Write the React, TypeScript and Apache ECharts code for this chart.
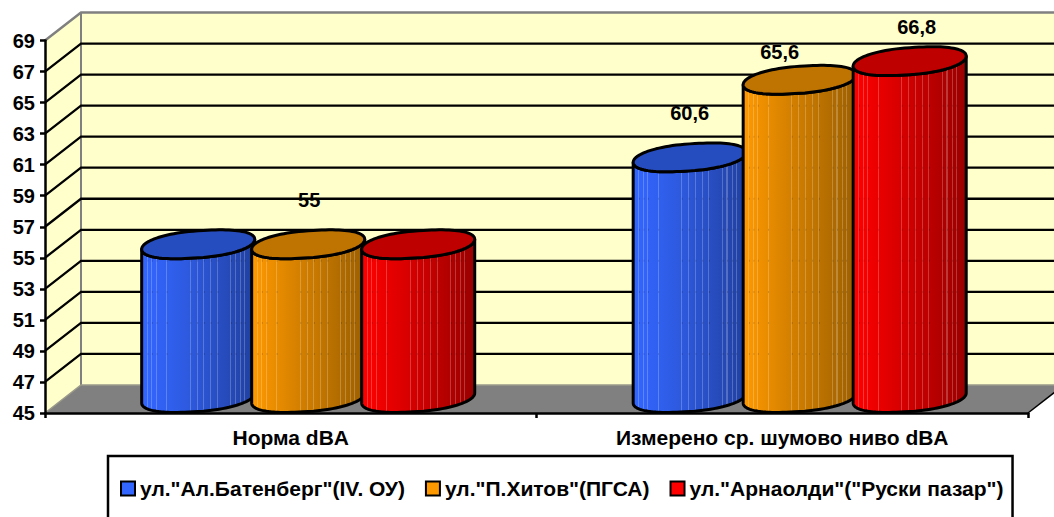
import React, { useEffect, useRef } from "react";
import * as echarts from "echarts";

const categories = ["Норма dBA", "Измерено ср. шумово ниво dBA"];
const seriesNames = ['ул."Ал.Батенберг"(IV. ОУ)', 'ул."П.Хитов"(ПГСА)', 'ул."Арнаолди"("Руски пазар")'];
const batenberg = [55, 60.6];
const hitov = [55, 65.6];
const arnaoldi = [55, 66.8];
const yTicks = [45, 47, 49, 51, 53, 55, 57, 59, 61, 63, 65, 67, 69];

const seriesValues = [batenberg, hitov, arnaoldi];
// which bars carry a label, and how far each was dragged from its default place [dx, dy]
const labelShown = [[false, true], [true, true], [false, true]];
const labelNudge = [[[0, 0], [0, -58]], [[1, -58], [-20, -41]], [[0, 0], [7, -48]]];
const palettes = [
  { base: "#3366FF", mid: "#2F5CE6", dark: "#20409F", top: "#264DBF" },
  { base: "#FF9900", mid: "#DB8400", dark: "#9C5F00", top: "#BF7300" },
  { base: "#FF0000", mid: "#DE0000", dark: "#990000", top: "#BF0000" },
];
const stripes = [0.05, 0.09, 0.13, 0.22, 0.43, 0.49, 0.55, 0.61, 0.67, 0.79, 0.83, 0.875, 0.91];

const FONT = '"Liberation Sans", Arial, sans-serif';
const DEPTH_X = 36;
const DEPTH_Y = 28;
const WALL = "#FFFFCC";
const GREY = "#808080";

function hex(c: string) {
  return [1, 3, 5].map((i) => parseInt(c.slice(i, i + 2), 16));
}
function mixRgb(A: number[], B: number[], t: number) {
  return A.map((v, i) => Math.round(v + (B[i] - v) * t));
}
function css(c: number[]) {
  return `rgb(${c.join(",")})`;
}
function bodyShade(p: any, t: number) {
  return t < 0.35
    ? mixRgb(hex(p.base), hex(p.mid), t / 0.35)
    : mixRgb(hex(p.mid), hex(p.dark), (t - 0.35) / 0.65);
}
function bodyGradient(p: any) {
  const stops: any[] = [{ offset: 0, color: p.base }];
  const w = 0.0045;
  stripes.forEach((s) => {
    const rgb = bodyShade(p, s);
    const c = css(rgb);
    const light = css(mixRgb(rgb, [255, 255, 255], 0.22));
    stops.push(
      { offset: s - w, color: c },
      { offset: s - w, color: light },
      { offset: s + w, color: light },
      { offset: s + w, color: c },
    );
  });
  stops.push({ offset: 1, color: p.dark });
  return new echarts.graphic.LinearGradient(0, 0, 1, 0, stops);
}

function signedPow(v: number, e: number) {
  return Math.sign(v) * Math.pow(Math.abs(v), e);
}
// a slightly squared, tilted ellipse: the blunt ends of the reference's cylinder caps
function ellipsePoint(cx: number, cy: number, a: number, t: number) {
  const B = 13.5, K = 5;
  const c = Math.cos(t), s = Math.sin(t);
  return [cx + a * signedPow(c, 0.88), cy - K * c + B * signedPow(s, 0.95)];
}

function showThroughDash(width: number) {
  const dash: number[] = [0, stripes[0] * width];
  stripes.forEach((s, i) => {
    const next = i + 1 < stripes.length ? stripes[i + 1] : 2;
    dash.push(1, (next - s) * width - 1);
  });
  return dash;
}

function cylinderSeries(idx: number) {
  const p = palettes[idx];
  return {
    type: "custom",
    name: seriesNames[idx],
    coordinateSystem: "cartesian2d",
    clip: false,
    z: 3 + idx,
    itemStyle: { color: p.base },
    encode: { x: 0, y: 1 },
    data: seriesValues[idx].map((v, i) => [i, v]),
    renderItem: (_params: any, api: any) => {
      const cat = api.value(0);
      const val = api.value(1);
      const band = api.size([1, 0])[0];
      const step = band * 0.2238;
      const a = band * 0.115;
      const shift = band * 0.0355;
      const c = api.coord([cat, val]);
      const b = api.coord([cat, 45]);
      const cx = c[0] + shift + (idx - 1) * step;
      const topY = c[1] - 13.5;
      const botY = b[1] - 15;
      const N = 48;
      const body: number[][] = [];
      for (let k = 0; k <= N; k++) body.push(ellipsePoint(cx, botY, a, Math.PI - (Math.PI * k) / N));
      for (let k = 0; k <= N; k++) body.push(ellipsePoint(cx, topY, a, (Math.PI * k) / N));
      const top: number[][] = [];
      for (let k = 0; k < N * 2; k++) top.push(ellipsePoint(cx, topY, a, (Math.PI * k) / N));
      const children: any[] = [
        { type: "polygon", shape: { points: body }, style: { fill: bodyGradient(p), stroke: "#000", lineWidth: 3, lineJoin: "round" } },
      ];
      // faint wall gridlines that show through along the stripes
      yTicks.slice(1, -1).forEach((t) => {
        const y = api.coord([cat, t])[1] - DEPTH_Y;
        if (y > topY + 16 && y < botY) {
          children.push({
            type: "line",
            shape: { x1: cx - a, y1: y, x2: cx + a, y2: y },
            style: { stroke: "#000", opacity: 0.16, lineWidth: 2, lineDash: showThroughDash(2 * a) },
          });
        }
      });
      children.push({ type: "polygon", shape: { points: top }, style: { fill: p.top, stroke: "#000", lineWidth: 3, lineJoin: "round" } });
      if (labelShown[idx][cat]) {
        const n = labelNudge[idx][cat];
        children.push({
          type: "text",
          x: cx + n[0],
          y: c[1] + n[1],
          style: {
            text: String(val).replace(".", ","),
            font: `bold 20px ${FONT}`,
            fill: "#000",
            align: "center",
            verticalAlign: "middle",
          },
        });
      }
      return { type: "group", children };
    },
  };
}

const wallSeries = {
  type: "custom",
  name: "walls",
  coordinateSystem: "cartesian2d",
  clip: false,
  silent: true,
  z: 1,
  encode: { y: 1 },
  data: [[0, 45]],
  renderItem: (params: any) => {
    const g = params.coordSys;
    const L = g.x, R = g.x + g.width, T = g.y, B = g.y + g.height;
    const dx = DEPTH_X, dy = DEPTH_Y;
    return {
      type: "group",
      children: [
        { type: "polygon", shape: { points: [[L + dx, T - dy], [R + dx, T - dy], [R + dx, B - dy], [L + dx, B - dy]] }, style: { fill: WALL } },
        { type: "polygon", shape: { points: [[L, T], [L + dx, T - dy], [L + dx, B - dy], [L, B]] }, style: { fill: WALL } },
        { type: "polygon", shape: { points: [[L, B], [L + dx, B - dy], [R + dx, B - dy], [R, B]] }, style: { fill: GREY } },
        { type: "polyline", shape: { points: [[L, T], [L + dx, T - dy], [R + dx, T - dy]] }, style: { stroke: GREY, lineWidth: 2.5, fill: "none" } },
        { type: "line", shape: { x1: L + dx, y1: T - dy, x2: L + dx, y2: B - dy }, style: { stroke: GREY, lineWidth: 2 } },
        { type: "polyline", shape: { points: [[L, B], [L + dx, B - dy], [R + dx, B - dy]] }, style: { stroke: "#9a9a8a", lineWidth: 1.5, fill: "none" } },
        { type: "line", shape: { x1: R, y1: B, x2: R + dx, y2: B - dy }, style: { stroke: "#000", lineWidth: 1.5 } },
      ],
    };
  },
};

const gridSeries = {
  type: "custom",
  name: "gridlines",
  coordinateSystem: "cartesian2d",
  clip: false,
  silent: true,
  z: 2,
  encode: { y: 1 },
  data: yTicks.slice(1, -1).map((t) => [0, t]),
  renderItem: (params: any, api: any) => {
    const g = params.coordSys;
    const y = api.coord([0, api.value(1)])[1];
    return {
      type: "polyline",
      shape: { points: [[g.x, y], [g.x + DEPTH_X, y - DEPTH_Y], [g.x + g.width + DEPTH_X, y - DEPTH_Y]] },
      style: { stroke: "#000", lineWidth: 2.3, fill: "none" },
    };
  },
};

export default function App() {
  const ref = useRef<HTMLDivElement>(null);
  useEffect(() => {
    const chart = echarts.init(ref.current!, undefined, { renderer: "svg" });
    chart.setOption({
      animation: false,
      backgroundColor: "#fff",
      grid: { left: 45, right: 26, top: 40.5, height: 372.5 },
      xAxis: {
        type: "category",
        data: categories,
        z: 6,
        axisLine: { lineStyle: { color: "#000", width: 2.5 } },
        axisTick: { show: true, alignWithLabel: false, length: 5, lineStyle: { color: "#000", width: 2.5 } },
        axisLabel: { color: "#000", fontFamily: FONT, fontWeight: "bold", fontSize: 21, margin: 14 },
      },
      yAxis: {
        type: "value",
        min: 45,
        max: 69,
        interval: 2,
        z: 6,
        axisLine: { show: true, lineStyle: { color: "#000", width: 2.5 } },
        axisTick: { show: true, length: 5, lineStyle: { color: "#000", width: 2.5 } },
        splitLine: { show: false },
        axisLabel: { color: "#000", fontFamily: FONT, fontWeight: "bold", fontSize: 20, margin: 10 },
      },
      legend: {
        data: seriesNames,
        left: 108,
        top: 456,
        orient: "horizontal",
        icon: "rect",
        itemWidth: 14,
        itemHeight: 14,
        itemGap: 20,
        padding: [22, 9, 60, 12],
        borderColor: "#000",
        borderWidth: 2.5,
        backgroundColor: "#fff",
        itemStyle: { borderColor: "#000", borderWidth: 2 },
        textStyle: { color: "#000", fontFamily: FONT, fontWeight: "bold", fontSize: 21, padding: [0, 0, 0, 0] },
      },
      series: [wallSeries, gridSeries, cylinderSeries(0), cylinderSeries(1), cylinderSeries(2)],
    });
    return () => chart.dispose();
  }, []);
  return <div ref={ref} style={{ position: "fixed", left: 0, top: 0, width: 1054, height: 517 }} />;
}
